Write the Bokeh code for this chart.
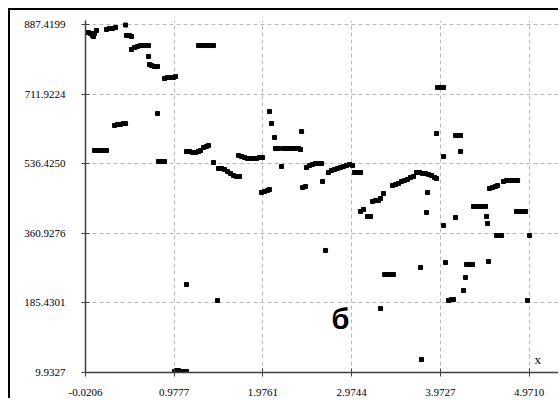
from bokeh.plotting import figure
from bokeh.models import FixedTicker, PrintfTickFormatter, Range1d, Label
from bokeh.embed import file_html
from bokeh.resources import INLINE

x_ticks = [-0.0206, 0.9777, 1.9761, 2.9744, 3.9727, 4.9710]
y_ticks = [9.9327, 185.4301, 360.9276, 536.4250, 711.9224, 887.4199]

x_vals = [
    -0.009, 0.013, 0.036, 0.058, 0.069, 0.081, 0.103,
    0.216, 0.250, 0.283, 0.317, 0.430,
    0.441, 0.475, 0.497,
    0.497, 0.531, 0.565, 0.598, 0.632, 0.666, 0.689,
    0.689, 0.700, 0.722, 0.756, 0.790,
    0.869, 0.902, 0.936, 0.970, 0.992,
    0.790, 0.306, 0.340, 0.373, 0.407, 0.430,
    1.251, 1.285, 1.319, 1.353, 1.386, 1.420,
    0.081, 0.115, 0.148, 0.182, 0.216,
    0.801, 0.835, 0.869,
    1.116, 1.150, 1.184, 1.218, 1.251, 1.274, 1.308, 1.341, 1.364,
    1.420,
    1.476, 1.510, 1.544, 1.578, 1.611, 1.645, 1.679, 1.713,
    1.701, 1.735, 1.769, 1.803, 1.837, 1.870, 1.904, 1.938, 1.972,
    1.960, 1.994, 2.028, 2.050,
    2.050, 2.073, 2.107,
    2.118, 2.152, 2.208, 2.242, 2.275, 2.309, 2.343, 2.377, 2.399,
    2.185, 2.411, 2.422, 2.456,
    2.467, 2.501, 2.534, 2.568, 2.602, 2.636,
    2.647, 2.681,
    2.714, 2.748, 2.782, 2.816, 2.849, 2.883, 2.917, 2.951, 2.985,
    3.007, 3.041, 3.075,
    3.075, 3.108, 3.153, 3.187,
    3.210, 3.243, 3.277, 3.300, 3.333,
    3.435, 3.468, 3.502, 3.536, 3.570, 3.604, 3.637, 3.671, 3.705, 3.739,
    3.772, 3.806, 3.840, 3.874, 3.907, 3.930,
    3.930, 3.941, 3.975, 4.009, 4.009,
    4.144, 4.178, 4.200, 4.200,
    3.829, 3.817, 4.009, 4.144,
    4.346, 4.380, 4.414, 4.448, 4.481,
    4.493, 4.504,
    4.526, 4.560, 4.594, 4.617,
    4.684, 4.718, 4.752, 4.785, 4.819, 4.842,
    4.605, 4.639, 4.662,
    4.830, 4.864, 4.898, 4.932,
    4.977,
    4.031, 4.268, 4.301, 4.335, 4.515, 3.750,
    3.345, 3.378, 3.412, 3.446,
    4.256, 4.234, 4.065, 4.099, 4.121, 4.954,
    3.300, 3.761, 1.116, 1.465,
    0.981, 1.004, 1.026, 1.049, 1.082, 1.116,
]

y_vals = [
    867.2, 867.2, 864.7, 859.7, 857.2, 864.7, 872.3,
    874.8, 877.3, 877.3, 879.8, 886.0,
    859.7, 859.7, 857.2,
    824.4, 829.4, 831.9, 834.4, 834.4, 834.4, 834.4,
    806.7, 786.5, 784.0, 781.5, 781.5,
    751.2, 753.8, 753.8, 753.8, 756.3,
    663.0, 632.7, 635.3, 635.3, 637.8, 637.8,
    834.4, 834.4, 834.4, 834.4, 834.4, 834.4,
    569.7, 569.7, 569.7, 569.7, 569.7,
    542.0, 542.0, 542.0,
    567.2, 567.2, 564.7, 564.7, 567.2, 569.7, 577.3, 579.8, 582.3,
    539.4,
    524.3, 524.3, 521.8, 516.7, 511.7, 506.7, 504.1, 504.1,
    557.1, 554.6, 552.1, 549.5, 549.5, 549.5, 549.5, 552.1, 552.1,
    463.8, 466.3, 468.8, 471.4,
    668.0, 637.8, 602.5,
    574.7, 574.7, 574.7, 574.7, 574.7, 574.7, 574.7, 574.7, 572.2,
    529.4, 617.6, 476.4, 478.9,
    526.8, 531.9, 534.4, 536.9, 536.9, 536.9,
    491.5, 317.6,
    514.2, 519.3, 521.8, 524.3, 526.8, 529.4, 531.9, 534.4, 531.9,
    514.2, 514.2, 514.2,
    415.9, 421.0, 403.3, 403.3,
    441.1, 443.6, 443.6, 448.7, 461.3,
    481.4, 483.9, 486.5, 491.5, 494.1, 496.6, 501.6, 504.1, 514.2, 514.2,
    511.7, 511.7, 509.2, 506.7, 501.6, 499.1,
    612.6, 728.6, 728.6, 728.6, 554.6,
    607.5, 607.5, 607.5, 567.2,
    463.8, 413.4, 380.6, 400.8,
    428.5, 428.5, 428.5, 428.5, 428.5,
    403.3, 385.6,
    473.9, 476.4, 478.9, 481.4,
    491.5, 494.1, 494.1, 494.1, 494.1, 494.1,
    355.4, 355.4, 355.4,
    415.9, 415.9, 415.9, 415.9,
    355.4,
    287.3, 282.3, 282.3, 282.3, 289.8, 274.7,
    257.0, 257.0, 257.0, 257.0,
    249.5, 216.7, 191.5, 194.0, 194.0, 191.5,
    171.3, 42.7, 231.8, 191.5,
    12.5, 15.0, 15.0, 12.5, 12.5, 12.5,
]

p = figure(
    width=550, height=390,
    x_range=Range1d(-0.0206, 5.325), y_range=Range1d(9.9327, 897.5),
    output_backend="svg", toolbar_location=None,
    min_border_left=75, min_border_right=0, min_border_top=10, min_border_bottom=28,
    background_fill_color="white", border_fill_color="white",
)
p.styles = {"border-top": "2px solid black", "border-left": "2px solid black",
            "margin-left": "8px", "margin-top": "8px"}
p.outline_line_color = None

p.scatter(x_vals, y_vals, marker="square", size=4, color="black", line_color="black")

for ax, ticks in ((p.xaxis[0], x_ticks), (p.yaxis[0], y_ticks)):
    ax.ticker = FixedTicker(ticks=ticks)
    ax.formatter = PrintfTickFormatter(format="%.4f")
    ax.axis_line_color = "#404040"
    ax.axis_line_width = 1.5
    ax.major_tick_line_color = "#404040"
    ax.major_tick_line_width = 1
    ax.major_tick_in = 4
    ax.major_tick_out = 4
    ax.minor_tick_line_color = None
    ax.major_label_text_font = "'Liberation Serif', 'Times New Roman', serif"
    ax.major_label_text_font_size = "11px"
    ax.major_label_text_color = "black"

p.yaxis[0].major_label_standoff = 16
p.xaxis[0].major_label_standoff = 12

for g in (p.xgrid[0], p.ygrid[0]):
    g.grid_line_color = "#b8b8b8"
    g.grid_line_dash = "4 3"
    g.grid_line_width = 1

p.add_layout(Label(x=5.033, y=42.7, text="x", text_font="'Liberation Serif', serif",
                   text_font_size="13px", text_color="black", text_baseline="alphabetic"))
p.add_layout(Label(x=2.748, y=143.6, text="б", text_font="'Liberation Sans', sans-serif",
                   text_font_size="29px", text_font_style="bold", text_color="black",
                   text_baseline="alphabetic"))

open("out.html", "w").write(file_html(p, INLINE))
